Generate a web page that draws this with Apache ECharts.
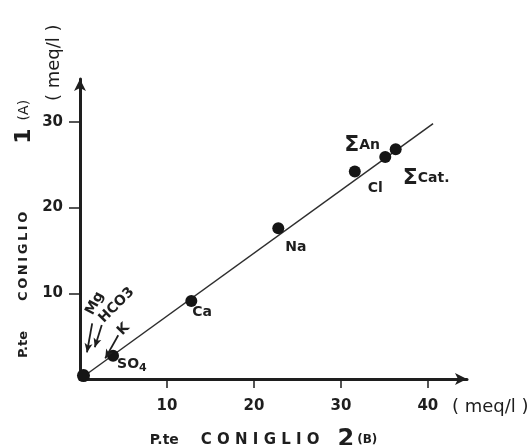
<!DOCTYPE html>
<html>
<head>
<meta charset="utf-8">
<script src="https://cdn.jsdelivr.net/npm/echarts@6/dist/echarts.min.js"></script>
<style>
html,body{margin:0;padding:0;background:#fff;}
#c{width:531px;height:445px;}
</style>
</head>
<body>
<div id="c"></div>
<script>
// ---- data ----
const pointNames = ['origin', 'SO4', 'Ca', 'Na', 'Cl', 'ΣAn', 'ΣCat'];
const xValues = [0.4, 3.8, 12.8, 22.8, 31.6, 35.1, 36.3];   // P.te CONIGLIO 2 (B), meq/l
const yValues = [0.4, 2.7, 9.1, 17.6, 24.2, 25.9, 26.8];     // P.te CONIGLIO 1 (A), meq/l
const fitLineX = [0, 40.6];
const fitLineY = [0, 29.8];
const xTicks = [10, 20, 30, 40];
const yTicks = [10, 20, 30];
// small-ion annotations (text, arrow start, arrow end)
const annNames = ['Mg', 'HCO3', 'K'];
const annTextX = [1.7, 4.2, 5.0];
const annTextY = [8.8, 8.6, 5.8];
const arrowFromX = [1.4, 2.5, 4.4];
const arrowFromY = [6.5, 6.3, 5.1];
const arrowToX = [0.8, 1.7, 2.9];
const arrowToY = [3.1, 3.7, 2.4];

// ---- styles (not data) ----
const FONT = 'DejaVu Sans';
const INK = '#1e1e1e';
const labelOffsets = {
  'origin': null,
  'SO4': [4, 9],
  'Ca': [1, 11],
  'Na': [7, 19],
  'Cl': [13, 17],
  'ΣAn': [-41, -12],
  'ΣCat': [7, 29]
};
const labelTexts = {
  'SO4': 'SO{sub|4}',
  'Ca': 'Ca',
  'Na': 'Na',
  'Cl': 'Cl',
  'ΣAn': '{sig|Σ}An',
  'ΣCat': '{sig|Σ}Cat.'
};
const annRotate = [62, 45, 45];

const points = pointNames.map((n, i) => {
  const d = { name: n, value: [xValues[i], yValues[i]] };
  if (n === 'origin') {
    d.symbolSize = 13;
    d.label = { show: false };
  } else {
    d.label = {
      show: true,
      position: 'inside',
      align: 'left',
      verticalAlign: 'middle',
      offset: labelOffsets[n],
      formatter: labelTexts[n]
    };
  }
  return d;
});

const fitData = fitLineX.map((x, i) => [x, fitLineY[i]]);
const annData = annNames.map((n, i) => ({
  name: n,
  value: [annTextX[i], annTextY[i]],
  label: { rotate: annRotate[i] }
}));
const arrowData = annNames.map((n, i) => [
  { coord: [arrowFromX[i], arrowFromY[i]] },
  { coord: [arrowToX[i], arrowToY[i]] }
]);

const chart = echarts.init(document.getElementById('c'), null, { renderer: 'canvas' });
chart.setOption({
  backgroundColor: '#ffffff',
  animation: false,
  grid: { left: 80, right: 64, top: 79, bottom: 66, containLabel: false, outerBoundsMode: 'none' },
  xAxis: {
    type: 'value', min: 0, max: 44.5,
    splitLine: { show: false },
    axisLine: { show: true, lineStyle: { color: INK, width: 3 }, symbol: ['none', 'arrow'], symbolSize: [9, 12] },
    axisTick: { show: true, length: 9, lineStyle: { color: INK, width: 1.5 }, customValues: xTicks },
    axisLabel: { show: true, margin: 20, color: INK, fontFamily: FONT, fontWeight: 'bold', fontSize: 15, customValues: xTicks },
    name: '{p|P.te}{n|C O N I G L I O}{big|2}{s|(B)}',
    nameLocation: 'middle',
    nameGap: 49,
    nameTextStyle: {
      color: INK, padding: [0, 20, 0, 0], verticalAlign: 'top',
      rich: {
        p: { fontFamily: FONT, fontWeight: 'bold', fontSize: 14, color: INK, padding: [0, 22, 0, 0] },
        n: { fontFamily: FONT, fontWeight: 'bold', fontSize: 15, color: INK, padding: [0, 18, 0, 0] },
        big: { fontFamily: FONT, fontWeight: 'bold', fontSize: 24, color: INK, padding: [0, 3, 0, 0] },
        s: { fontFamily: FONT, fontSize: 12, fontWeight: 'bold', color: INK }
      }
    }
  },
  yAxis: {
    type: 'value', min: 0, max: 35,
    splitLine: { show: false },
    axisLine: { show: true, lineStyle: { color: INK, width: 3 }, symbol: ['none', 'arrow'], symbolSize: [9, 12] },
    axisTick: { show: true, length: 11, lineStyle: { color: INK, width: 1.5 }, customValues: yTicks },
    axisLabel: { show: true, margin: 17, color: INK, fontFamily: FONT, fontWeight: 'bold', fontSize: 15, customValues: yTicks },
    name: '{p|P.te}{n|C\u2009O\u2009N\u2009I\u2009G\u2009L\u2009I\u2009O}{big|1}{s|(A)}',
    nameLocation: 'middle',
    nameGap: 45,
    nameMoveOverlap: false,
    nameRotate: 90,
    nameTextStyle: {
      color: INK,
      rich: {
        p: { fontFamily: FONT, fontWeight: 'bold', fontSize: 13, color: INK, padding: [0, 30, 0, 0] },
        n: { fontFamily: FONT, fontWeight: 'bold', fontSize: 13, color: INK, padding: [0, 68, 0, 0] },
        big: { fontFamily: FONT, fontWeight: 'bold', fontSize: 22, color: INK, padding: [0, 8, 0, 0] },
        s: { fontFamily: FONT, fontSize: 14, color: INK }
      }
    }
  },
  series: [
    {
      type: 'line',
      data: fitData,
      symbol: 'none',
      lineStyle: { color: '#2e2e2e', width: 1.5 },
      z: 2,
      markLine: {
        silent: true,
        symbol: ['none', 'arrow'],
        symbolSize: [6, 9],
        lineStyle: { color: INK, width: 1.8, type: 'solid' },
        label: { show: false },
        data: arrowData
      }
    },
    {
      type: 'scatter',
      data: points,
      symbol: 'circle',
      symbolSize: 12,
      itemStyle: { color: '#151515', opacity: 1 },
      label: {
        color: INK, fontFamily: FONT, fontWeight: 'bold', fontSize: 14,
        rich: {
          sub: { fontFamily: FONT, fontWeight: 'bold', fontSize: 11, color: INK, verticalAlign: 'bottom', padding: [6, 0, 0, 0] },
          sig: { fontFamily: FONT, fontSize: 22, color: INK }
        }
      },
      z: 3
    },
    {
      type: 'scatter',
      data: annData,
      symbolSize: 0,
      itemStyle: { opacity: 1 },
      label: {
        show: true, position: 'inside', formatter: '{b}',
        color: INK, fontFamily: FONT, fontWeight: 'bold', fontSize: 14
      },
      z: 3
    }
  ],
  graphic: [
    {
      type: 'text', left: 452, top: 398,
      style: { text: '( meq/l )', fill: INK, font: '18px "DejaVu Sans"' }
    },
    {
      type: 'text', x: 45, y: 101, rotation: Math.PI / 2,
      style: { text: '( meq/l )', fill: INK, font: '18px "DejaVu Sans"', align: 'left', verticalAlign: 'top' }
    }
  ]
});
</script>
</body>
</html>
